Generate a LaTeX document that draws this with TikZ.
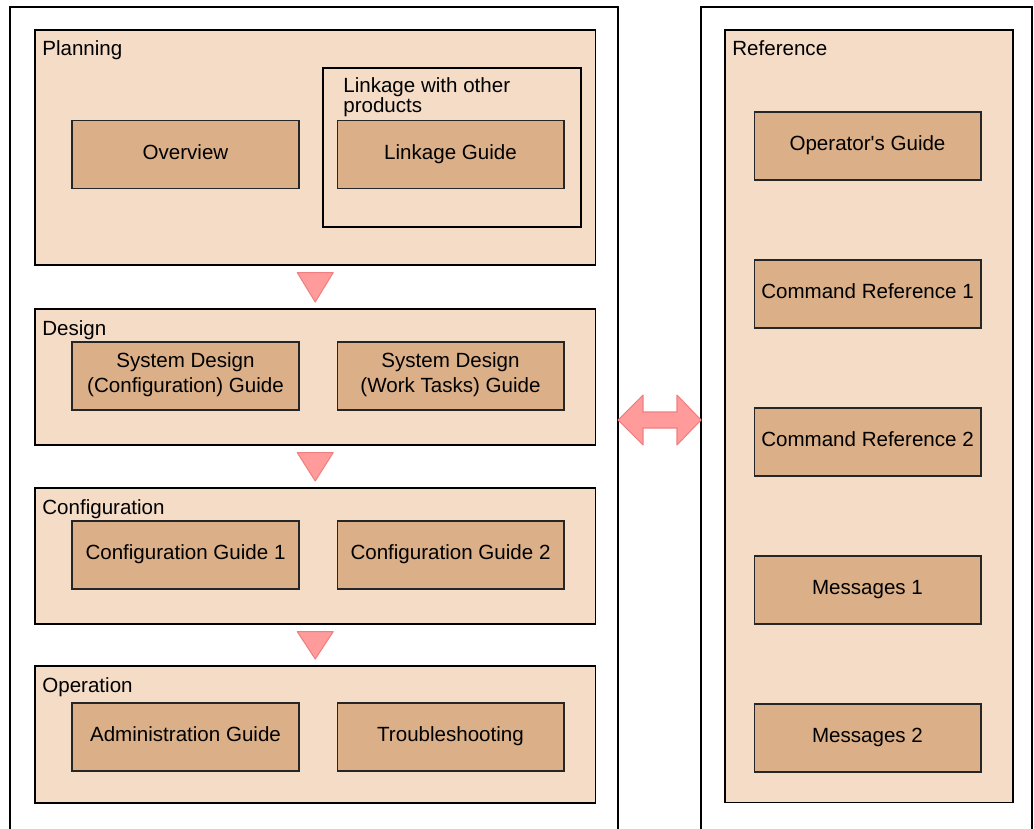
\documentclass[tikz,border=0pt]{standalone}
\usepackage{fontspec}
\setmainfont{Liberation Sans}
\usetikzlibrary{calc}
\definecolor{phasefill}{HTML}{F4DCC6}
\definecolor{docfill}{HTML}{DBAF87}
\definecolor{arrowfill}{HTML}{FF9B9B}
\definecolor{arrowline}{HTML}{F08080}
\tikzset{
  outerbox/.style={draw, line width=1pt, fill=white},
  phase/.style={draw, line width=0.9pt, fill=phasefill, anchor=north west, inner sep=0pt},
  doc/.style={draw=black!85, line width=0.6pt, fill=docfill, minimum width=4.54cm,
    minimum height=1.36cm, align=center, inner sep=1pt, execute at begin node=\strut},
  phaselabel/.style={anchor=base west, inner sep=0pt},
  flowarrow/.style={fill=arrowfill, draw=arrowline, line width=0.6pt, line join=round}
}
\begin{document}
\begin{tikzpicture}[x=0.02cm,y=-0.02cm,font=\fontsize{11.7}{14}\selectfont]
    \useasboundingbox (0,0) rectangle (1034,828);
    \clip (0,0) rectangle (1034,828);
    %% Outer frames
    \draw[outerbox] (10,7) rectangle (618,850);
    \draw[outerbox] (701,7) rectangle (1032,850);
    %% Phases
    \node[phase, minimum width=11.22cm, minimum height=4.70cm] (plan) at (34,29) {};
    \node[phase, minimum width=11.22cm, minimum height=2.72cm] (design) at (34,308) {};
    \node[phase, minimum width=11.22cm, minimum height=2.72cm] (config) at (34,487) {};
    \node[phase, minimum width=11.22cm, minimum height=2.74cm] (oper) at (34,665) {};
    \node[phase, minimum width=5.76cm, minimum height=15.46cm] (ref) at (724,29) {};
    \foreach \p/\txt in {plan/Planning, design/Design, config/Configuration, oper/Operation, ref/Reference} {
        \node[phaselabel] (\p lbl) at ($(\p.north west)+(8,27)$) {\txt};
    }
    %% Linkage
    \node[phase, draw=black, line width=1pt, minimum width=5.16cm, minimum height=3.18cm] (link) at (322,67) {};
    \node[anchor=north west, inner sep=0pt, align=left, font=\fontsize{11.7}{11.5}\selectfont]
        (linklbl) at (343,77) {Linkage with other\\products};
    %% Documents
    \node[doc] (overview) at (185.5,154.5) {Overview};
    \node[doc] (linkguide) at (450.5,154.5) {Linkage Guide};
    \node[doc] (sdconf) at (185.5,376) {System Design\\(Configuration) Guide};
    \node[doc] (sdwork) at (450.5,376) {System Design\\(Work Tasks) Guide};
    \node[doc] (conf1) at (185.5,555) {Configuration Guide 1};
    \node[doc] (conf2) at (450.5,555) {Configuration Guide 2};
    \node[doc] (admin) at (185.5,737) {Administration Guide};
    \node[doc] (trouble) at (450.5,737) {Troubleshooting};
    \foreach \y/\n/\txt in {146/opguide/Operator\textquotesingle s Guide, 294/cmdref1/Command Reference 1,
        442/cmdref2/Command Reference 2, 590/msg1/Messages 1, 738/msg2/Messages 2} {
        \node[doc] (\n) at (867.5,\y) {\txt};
    }
    %% Flow arrows
    \foreach \a/\b in {plan/design, design/config, config/oper} {
        \draw[flowarrow] ($(\a.south)+(-18,7)$) -- ($(\a.south)+(18,7)$) -- ($(\b.north)+(0,-6)$) -- cycle;
    }
    %% Double arrow
    \coordinate (lefttip) at (618,420);
    \coordinate (righttip) at (701,420);
    \draw[flowarrow] (lefttip) -- ($(lefttip)+(25,-25)$) -- ($(lefttip)+(25,-8)$)
        -- ($(righttip)+(-24,-8)$) -- ($(righttip)+(-24,-25)$) -- (righttip)
        -- ($(righttip)+(-24,25)$) -- ($(righttip)+(-24,8)$) -- ($(lefttip)+(25,8)$)
        -- ($(lefttip)+(25,25)$) -- cycle;
\end{tikzpicture}
\end{document}
